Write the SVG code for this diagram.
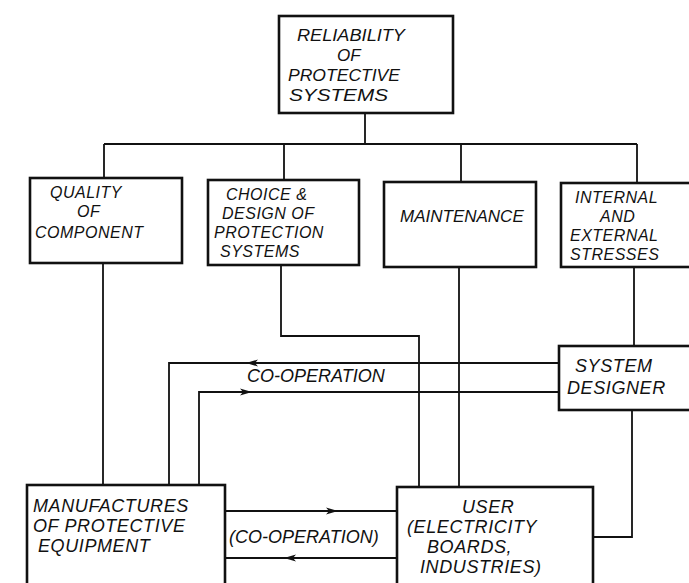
<svg xmlns="http://www.w3.org/2000/svg" width="689" height="583" viewBox="0 0 689 583">
<style>
.box{fill:#fff;stroke:#111;stroke-width:2.6}
.ln{fill:none;stroke:#111;stroke-width:1.8}
text{font-family:"Liberation Sans",Arial,sans-serif;font-style:italic;fill:#111}
.t18{font-size:18px}.t16{font-size:16px;letter-spacing:0.5px}.t17{font-size:17px}.t19{font-size:18px;letter-spacing:0.6px}
</style>
<defs>
<marker id="ah" viewBox="0 0 12 8" refX="12" refY="4" markerWidth="12" markerHeight="8" markerUnits="userSpaceOnUse" orient="auto">
<path d="M0,0.5 L12,4 L0,7.5 L3,4 Z" fill="#111"/>
</marker>
</defs>
<rect width="689" height="583" fill="#fff"/>
<g id="connectors">
<path class="ln" d="M365,113 V144 M104,144 H637 M104,144 V178 M284,144 V180 M461,144 V182 M637,144 V183"/>
<path class="ln" d="M103,263 V485"/>
<path class="ln" d="M281,265 V336 H419 V487"/>
<path class="ln" d="M459,267 V487"/>
<path class="ln" d="M634,267 V346"/>
<path class="ln" d="M632,410 V537 H593"/>
<path class="ln" d="M559,363 H169 V485"/>
<path class="ln" d="M320,363 H246" marker-end="url(#ah)"/>
<path class="ln" d="M559,392 H199 V485"/>
<path class="ln" d="M199,392 H252" marker-end="url(#ah)"/>
<path class="ln" d="M225,511 H397"/>
<path class="ln" d="M225,511 H338" marker-end="url(#ah)"/>
<path class="ln" d="M397,558 H225"/>
<path class="ln" d="M397,558 H284" marker-end="url(#ah)"/>
<text class="t18" x="247" y="382">CO-OPERATION</text>
<text class="t18" x="229" y="543">(CO-OPERATION)</text>
</g>
<g id="reliability">
<rect class="box" x="279" y="16" width="174" height="97"/>
<text class="t17" x="297" y="41" textLength="108" lengthAdjust="spacingAndGlyphs">RELIABILITY</text>
<text class="t17" x="337" y="61">OF</text>
<text class="t17" x="288" y="81" textLength="112" lengthAdjust="spacingAndGlyphs">PROTECTIVE</text>
<text class="t17" x="289" y="101" textLength="99" lengthAdjust="spacingAndGlyphs">SYSTEMS</text>
</g>
<g id="quality">
<rect class="box" x="30" y="178" width="152" height="85"/>
<text class="t16" x="50" y="198">QUALITY</text>
<text class="t16" x="77" y="217">OF</text>
<text class="t16" x="35" y="238">COMPONENT</text>
</g>
<g id="choice">
<rect class="box" x="208" y="180" width="151" height="85"/>
<text class="t16" x="226" y="200">CHOICE &amp;</text>
<text class="t16" x="222" y="219">DESIGN OF</text>
<text class="t16" x="214" y="238">PROTECTION</text>
<text class="t16" x="220" y="257">SYSTEMS</text>
</g>
<g id="maintenance">
<rect class="box" x="384" y="182" width="152" height="85"/>
<text class="t17" x="400" y="222">MAINTENANCE</text>
</g>
<g id="stresses">
<rect class="box" x="561" y="183" width="140" height="84"/>
<text class="t16" x="575" y="203">INTERNAL</text>
<text class="t16" x="600" y="222">AND</text>
<text class="t16" x="570" y="241">EXTERNAL</text>
<text class="t16" x="570" y="260">STRESSES</text>
</g>
<g id="system-designer">
<rect class="box" x="559" y="346" width="142" height="64"/>
<text class="t19" x="575" y="372">SYSTEM</text>
<text class="t19" x="567" y="394">DESIGNER</text>
</g>
<g id="manufactures">
<rect class="box" x="27" y="485" width="198" height="110"/>
<text class="t19" x="33" y="512">MANUFACTURES</text>
<text class="t19" x="33" y="532">OF PROTECTIVE</text>
<text class="t19" x="38" y="552">EQUIPMENT</text>
</g>
<g id="user">
<rect class="box" x="397" y="487" width="196" height="110"/>
<text class="t19" x="462" y="513">USER</text>
<text class="t19" x="407" y="533">(ELECTRICITY</text>
<text class="t19" x="427" y="553">BOARDS,</text>
<text class="t19" x="420" y="573">INDUSTRIES)</text>
</g>
</svg>
